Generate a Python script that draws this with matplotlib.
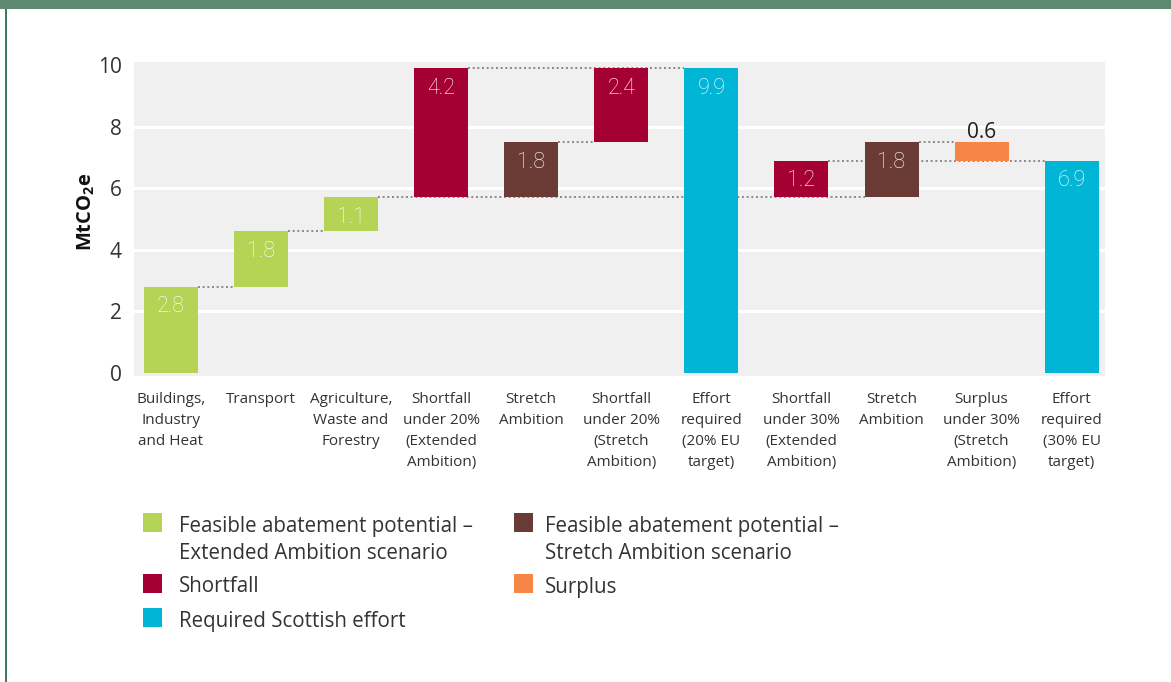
import matplotlib
matplotlib.use("Agg")
import matplotlib.pyplot as plt
from matplotlib.patches import Rectangle

plt.rcParams['font.family'] = ['Open Sans', 'DejaVu Sans']
plt.rcParams['mathtext.fontset'] = 'custom'
plt.rcParams['mathtext.rm'] = 'Open Sans'
plt.rcParams['mathtext.bf'] = 'Open Sans:bold'

# ---- data -------------------------------------------------------------
categories = [
    "Buildings,\nIndustry\nand Heat",
    "Transport",
    "Agriculture,\nWaste and\nForestry",
    "Shortfall\nunder 20%\n(Extended\nAmbition)",
    "Stretch\nAmbition",
    "Shortfall\nunder 20%\n(Stretch\nAmbition)",
    "Effort\nrequired\n(20% EU\ntarget)",
    "Shortfall\nunder 30%\n(Extended\nAmbition)",
    "Stretch\nAmbition",
    "Surplus\nunder 30%\n(Stretch\nAmbition)",
    "Effort\nrequired\n(30% EU\ntarget)",
]
values = [2.8, 1.8, 1.1, 4.2, 1.8, 2.4, 9.9, 1.2, 1.8, 0.6, 6.9]
bottoms = [0.0, 2.8, 4.6, 5.7, 5.7, 7.5, 0.0, 5.7, 5.7, 6.9, 0.0]
kinds = ["ext", "ext", "ext", "short", "stretch", "short",
         "effort", "short", "stretch", "surplus", "effort"]
# dotted connectors: (from bar, to bar) joined at the top of the "from" bar
connectors = [(0, 1), (1, 2), (2, 8), (3, 6), (4, 5), (7, 10), (8, 9)]

yticks = [0, 2, 4, 6, 8, 10]

colors = {
    "ext": "#b5d455",
    "stretch": "#6a3b35",
    "short": "#a50034",
    "surplus": "#f58646",
    "effort": "#00b5d6",
}
legend_entries = [
    ("ext", "Feasible abatement potential –\nExtended Ambition scenario"),
    ("stretch", "Feasible abatement potential –\nStretch Ambition scenario"),
    ("short", "Shortfall"),
    ("surplus", "Surplus"),
    ("effort", "Required Scottish effort"),
]

# ---- figure -----------------------------------------------------------
W, H = 1171, 682
fig = plt.figure(figsize=(W / 100, H / 100), dpi=100)
fig.patch.set_facecolor("white")

# frame decoration: top band and left rule
fig.add_artist(Rectangle((0, 1 - 9 / H), 1, 9 / H, transform=fig.transFigure,
                         facecolor="#5e8a74", edgecolor="none", zorder=0))
fig.add_artist(Rectangle((5 / W, 0), 1.6 / W, 1 - 9 / H, transform=fig.transFigure,
                         facecolor="#3f7a5f", edgecolor="none", zorder=0))

ax = fig.add_axes([134 / W, 1 - 376 / H, (1105 - 134) / W, (376 - 62) / H])
ax.set_facecolor("#f0f0f0")
for s in ax.spines.values():
    s.set_visible(False)

x = list(range(len(values)))
bw = 0.6
tops = [b + v for b, v in zip(bottoms, values)]

for yv in yticks[1:-1]:
    ax.axhline(yv, color="white", lw=2.2, zorder=1)

for i, j in connectors:
    ax.plot([x[i] + bw / 2, x[j] - bw / 2], [tops[i], tops[i]],
            color="#8a8a8a", lw=1.4, linestyle=(0, (1, 1.4)), zorder=2)

ax.bar(x, values, bottom=bottoms, width=bw,
       color=[colors[k] for k in kinds], zorder=3)

num_font = ['Roboto', 'Open Sans', 'DejaVu Sans']
for xi, v, t, k in zip(x, values, tops, kinds):
    if k == "surplus":
        # small bar: value sits above it in dark text
        ax.annotate(f"{v:.1f}", (xi, t), xytext=(0, 7), textcoords="offset points",
                    ha="center", va="center", fontsize=15, color="#1e1e1e",
                    zorder=4)
    else:
        ax.annotate(f"{v:.1f}", (xi, t), xytext=(0, -14.5), textcoords="offset points",
                    ha="center", va="center", fontsize=15.5, color="white",
                    family=num_font, fontweight="light", zorder=4)

ax.set_xlim(-0.41, 10.37)
ax.set_ylim(-0.1, 10.1)
ax.set_yticks(yticks)
ax.set_yticklabels([str(t) for t in yticks], fontsize=15, color="#333333")
ax.set_xticks(x)
ax.set_xticklabels(categories, fontsize=11, color="#333333", linespacing=1.56,
                   va="top")
ax.tick_params(axis="both", length=0)
ax.tick_params(axis="y", pad=9)
ax.tick_params(axis="x", pad=11.5)

ax.set_ylabel(r"MtCO$_\mathbf{2}$e", fontsize=14.5, fontweight="bold", color="#111111")
ax.yaxis.set_label_coords(-0.038, 0.522)

# ---- legend -------------------------------------------------------------
sq_x = [143, 514]
txt_x = [179, 545]
rows_y = [522.5, 583, 617.5]
sq = 19
positions = [(0, 0), (1, 0), (0, 1), (1, 1), (0, 2)]
for (kind, label), (c, r) in zip(legend_entries, positions):
    cy = rows_y[r]
    fig.add_artist(Rectangle((sq_x[c] / W, 1 - (cy + sq / 2) / H), sq / W, sq / H,
                             transform=fig.transFigure, facecolor=colors[kind],
                             edgecolor="none"))
    fig.text(txt_x[c] / W, 1 - (cy - 6.5) / H, label, fontsize=14.8,
             color="#333333", ha="left", va="top", linespacing=1.36)

fig.savefig("out.png", dpi=100)
